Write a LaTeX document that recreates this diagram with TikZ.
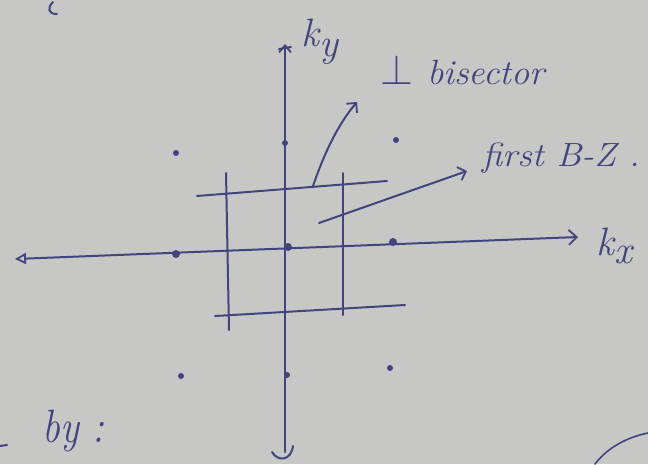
\documentclass[tikz,border=0pt]{standalone}
\usepackage{graphicx}
\usetikzlibrary{arrows.meta}
\definecolor{paper}{HTML}{C7C8C6}
\definecolor{ink}{HTML}{43437E}
\begin{document}
\begin{tikzpicture}[x=1pt,y=-1pt,
  pen/.style={draw=ink, line width=2pt, line cap=round, line join=round},
  dot/.style={circle, fill=ink, inner sep=0pt, minimum size=8pt},
  smalldot/.style={circle, fill=ink, inner sep=0pt, minimum size=6pt},
  lbl/.style={text=ink, inner sep=0pt, font=\fontsize{28}{32}\selectfont\itshape},
  biglbl/.style={text=ink, inner sep=0pt, font=\fontsize{36}{40}\selectfont\itshape},
  barb/.style={-{Straight Barb[length=7pt,width=14pt,line width=1.8pt]}}]
\fill[paper] (0,0) rectangle (648,464);
\useasboundingbox (0,0) rectangle (648,464);

% reciprocal lattice points
\node[dot] (g00) at (288,247) {};
\node[dot] (gm0) at (176,254) {};
\node[dot] (gp0) at (393,242) {};
\node[smalldot] (g0p) at (285,143) {};
\node[smalldot] (g0m) at (287,375) {};
\node[smalldot] (gmp) at (176,153) {};
\node[smalldot] (gpp) at (396,140) {};
\node[smalldot] (gmm) at (181,376) {};
\node[smalldot] (gpm) at (390,368) {};

% axes
\coordinate (kxL) at (15,259);
\coordinate (kxR) at (578,237);
\draw[pen, {Triangle[open,length=11pt,width=11pt,line width=1.8pt]}-{Straight Barb[length=8pt,width=15pt,line width=1.8pt]}] (kxL) -- (kxR);
\coordinate (kyT) at (285,44);
\coordinate (kyB) at (285,452);
\draw[pen, -{Straight Barb[length=7pt,width=12pt,line width=1.8pt]}] (kyB) -- (kyT);
\draw[pen] (kyT) ++(-6,5) -- ++(12,-2);
\coordinate (hkL) at (272,452);
\coordinate (hkR) at (293,446);
\draw[pen] (hkL) .. controls (278,462) and (291,461) .. (hkR);

% Brillouin zone bisectors
\coordinate (t1) at (197,196); \coordinate (t2) at (387,181);
\coordinate (b1) at (215,316); \coordinate (b2) at (405,305);
\coordinate (l1) at (226,173); \coordinate (l2) at (229,330);
\coordinate (r1) at (343,173); \coordinate (r2) at (343,315);
\draw[pen] (t1) -- (t2);
\draw[pen] (b1) -- (b2);
\draw[pen] (l1) -- (l2);
\draw[pen] (r1) -- (r2);

% labels
\node[biglbl] (ky) at (320,42) {\scalebox{1.1}{k\raisebox{-9pt}{y}}};
\node[biglbl] (kx) at (614,246) {\scalebox{1.1}{k\raisebox{-7pt}{x}}};
\node[lbl, anchor=base west] (bis) at (380,84) {\scalebox{1.7}{$\perp$}\hspace{14pt}\scalebox{1.3}[1.25]{bisector}};
\node[lbl, anchor=base west] (fbz) at (482,166) {\scalebox{1.3}[1.2]{first B-Z .}};
\node[biglbl, anchor=base west] (by) at (42,442) {\scalebox{1.1}[1.3]{by :}};

% pointers
\coordinate (p1s) at (313,186);
\coordinate (p1e) at (357,102);
\draw[pen, barb] (p1s) .. controls (322,160) and (335,128) .. (p1e);
\coordinate (p2s) at (319,223);
\coordinate (p2e) at (467,171);
\draw[pen, barb] (p2s) -- (p2e);

% stray pen marks on the page
\draw[pen] (53,2) .. controls (47,8) and (48,14) .. (57,14);
\draw[pen] (0,446) -- (7,445);
\draw[pen, line width=1.6pt] (595,464) .. controls (608,447) and (628,437) .. (648,433);
\end{tikzpicture}
\end{document}
